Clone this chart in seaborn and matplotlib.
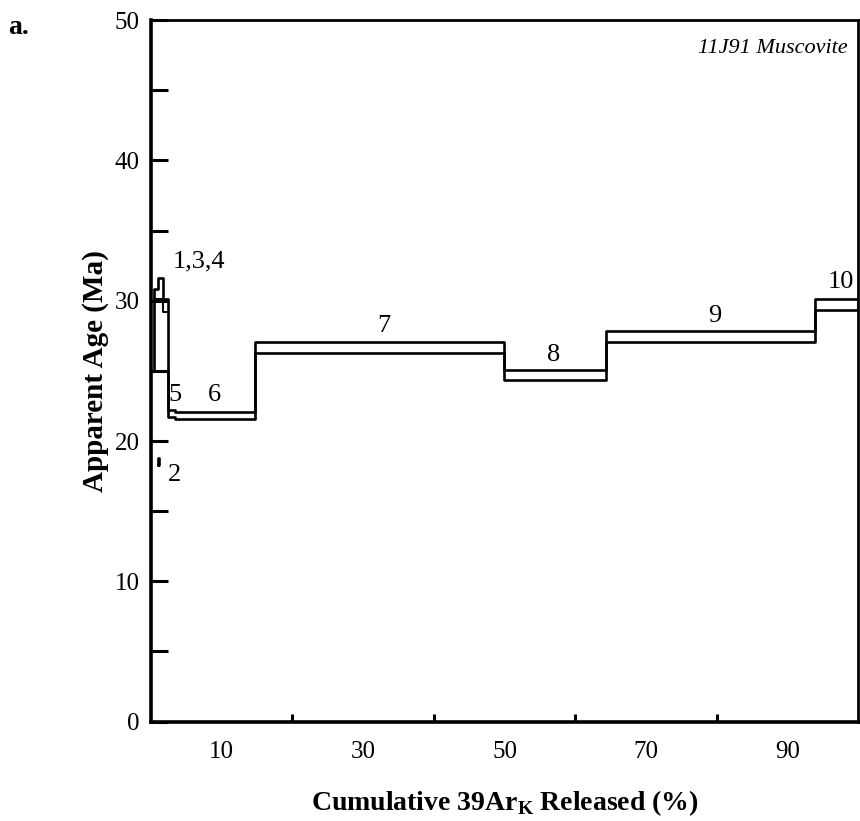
import numpy as np
import pandas as pd
import seaborn as sns
import matplotlib.pyplot as plt
from matplotlib.ticker import FixedLocator

# Step-heating increments: cumulative 39ArK released (%) at each step edge
step_labels = ["1", "3", "4", "5", "6", "7", "8", "9", "10"]
cum_start = [0.42, 1.03, 1.70, 2.45, 3.39, 14.7, 49.9, 64.4, 93.9]
cum_end = [1.03, 1.70, 2.22, 3.39, 14.7, 49.9, 64.4, 93.9, 100.0]
# apparent age envelope (Ma), low / high
age_low = [25.0, 25.0, 25.0, 21.7, 21.57, 26.3, 24.36, 27.03, 29.36]
age_high = [30.8, 31.6, 30.1, 22.2, 22.07, 27.03, 25.07, 27.86, 30.12]
# inner tops of the first low-temperature boxes
inner_low = [30.1, 30.1, 29.2]

# small low-age increment 2
step2_x = [0.93, 1.10]
step2_low = 18.3
step2_high = 18.8

# label placement (percent, Ma)
label_text = ["1,3,4", "5", "6", "7", "8", "9", "10", "2"]
label_x = [6.8, 3.4, 9.0, 33.0, 56.9, 79.8, 97.6, 3.3]
label_y = [32.8, 23.3, 23.3, 28.2, 26.1, 28.9, 31.3, 17.6]

sns.set_theme(style="white")
plt.rcParams["font.family"] = ["Liberation Serif", "DejaVu Serif"]
plt.rcParams["mathtext.fontset"] = "custom"
plt.rcParams["mathtext.rm"] = "Liberation Serif"
plt.rcParams["mathtext.bf"] = "Liberation Serif:bold"
plt.rcParams["text.color"] = "black"
plt.rcParams["axes.labelcolor"] = "black"
plt.rcParams["xtick.color"] = "black"
plt.rcParams["ytick.color"] = "black"

fig = plt.figure(figsize=(8.6, 8.21), dpi=100)
ax = fig.add_axes([0.1756, 0.121, 0.8221, 0.8546])

LW = 1.9
edges = cum_start + [cum_end[-1]]
env = pd.DataFrame({
    "cum": edges + edges,
    "age": age_high + [age_high[-1]] + age_low + [age_low[-1]],
    "side": ["high"] * len(edges) + ["low"] * len(edges),
})
line_kw = dict(color="black", linewidth=LW, drawstyle="steps-post",
               estimator=None, sort=False, legend=False)
sns.lineplot(data=env[env.side == "high"], x="cum", y="age", ax=ax, **line_kw)
sns.lineplot(data=env[env.side == "low"], x="cum", y="age", ax=ax, **line_kw)
# closing edges of the first and last increments
ax.vlines([cum_start[0], cum_end[-1]], [age_low[0], age_low[-1]],
          [age_high[0], age_high[-1]], color="black", linewidth=LW)

# inner box floors of increments 1, 3, 4
inner = pd.DataFrame({"cum": cum_start[:3] + [cum_end[2]],
                      "age": inner_low + [inner_low[-1]]})
sns.lineplot(data=inner, x="cum", y="age", ax=ax, color="black", linewidth=1.4,
             drawstyle="steps-post", estimator=None, sort=False, legend=False)

# increment 2 as a small closed box
s2 = pd.DataFrame({"cum": [step2_x[0], step2_x[1], step2_x[1], step2_x[0], step2_x[0]],
                   "age": [step2_low, step2_low, step2_high, step2_high, step2_low]})
sns.lineplot(data=s2, x="cum", y="age", ax=ax, color="black", linewidth=LW,
             estimator=None, sort=False, legend=False)

for t, x, y in zip(label_text, label_x, label_y):
    ax.text(x, y, t, ha="center", va="center", fontsize=19, color="black")

ax.text(0.986, 0.96, "11J91 Muscovite", transform=ax.transAxes, ha="right",
        va="center", fontsize=16, style="italic", color="black")

ax.set_xlim(0, 100)
ax.set_ylim(0, 50)

ax.set_yticks([0, 10, 20, 30, 40, 50])
ax.yaxis.set_minor_locator(FixedLocator([5, 15, 25, 35, 45]))
ax.tick_params(axis="y", which="both", direction="in", length=12, width=2.2,
               labelsize=18, pad=8, left=True, color="black", labelcolor="black")
ax.set_xticks([10, 30, 50, 70, 90])
ax.xaxis.set_minor_locator(FixedLocator([20, 40, 60, 80]))
ax.tick_params(axis="x", which="major", length=0, labelsize=18, pad=14,
               labelcolor="black")
ax.tick_params(axis="x", which="minor", direction="in", length=6, width=2.2,
               bottom=True, color="black")

for side, lw in [("left", 2.6), ("bottom", 2.6), ("top", 2.0), ("right", 2.0)]:
    ax.spines[side].set_linewidth(lw)
    ax.spines[side].set_color("black")

ax.set_xlabel(r"Cumulative 39Ar$_{\mathbf{K}}$ Released (%)", fontsize=20,
              fontweight="bold", labelpad=18, color="black")
ax.set_ylabel("Apparent Age (Ma)", fontsize=21, fontweight="bold",
              labelpad=4, color="black")

fig.text(0.009, 0.966, "a.", fontsize=20, fontweight="bold", ha="left",
         va="center", color="black")

fig.savefig("out.png", dpi=100)
